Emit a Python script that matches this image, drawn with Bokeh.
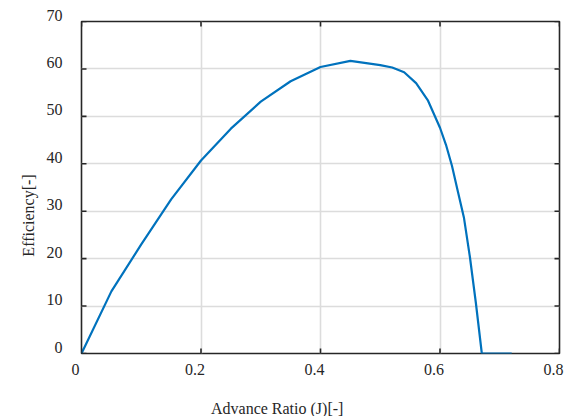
import math
from bokeh.plotting import figure
from bokeh.models import LinearAxis, Label, FixedTicker, Range1d
from bokeh.embed import file_html
from bokeh.resources import INLINE

# Data
advance_ratio = [0.0, 0.05, 0.10, 0.15, 0.20, 0.25, 0.30, 0.35, 0.40, 0.45, 0.50,
                 0.52, 0.54, 0.56, 0.58, 0.60, 0.61, 0.62, 0.63, 0.64, 0.65, 0.66,
                 0.67, 0.72]
efficiency = [0.0, 13.1, 23.0, 32.5, 40.7, 47.4, 53.1, 57.4, 60.4, 61.7, 60.8,
              60.3, 59.3, 57.0, 53.3, 47.6, 44.0, 39.6, 34.1, 28.7, 20.4, 10.7,
              0.0, 0.0]

x_ticks = [0, 0.2, 0.4, 0.6, 0.8]
x_tick_labels = ["0", "0.2", "0.4", "0.6", "0.8"]
y_ticks = [0, 10, 20, 30, 40, 50, 60, 70]
y_tick_labels = ["0", "10", "20", "30", "40", "50", "60", "70"]

x_label = "Advance Ratio (J)[-]"
y_label = "Efficiency[-]"

FONT = "Liberation Serif"
TXT = "#262626"
FS = "16px"

# small offsets of the tick labels relative to their ticks (as in the reference)
DX = -0.010
DY = 1.37

p = figure(width=564, height=416, output_backend="svg", toolbar_location=None,
           x_range=Range1d(x_ticks[0], x_ticks[-1]),
           y_range=Range1d(y_ticks[0], y_ticks[-1]),
           min_border_left=81, min_border_right=5, min_border_top=21,
           min_border_bottom=63, x_axis_location=None, y_axis_location=None)
p.outline_line_color = TXT
p.outline_line_width = 1.6
p.background_fill_color = "white"
p.border_fill_color = "white"

p.xgrid.ticker = FixedTicker(ticks=x_ticks)
p.ygrid.ticker = FixedTicker(ticks=y_ticks)
for g in (p.xgrid, p.ygrid):
    g.grid_line_color = "#dcdcdc"
    g.grid_line_width = 1.6

p.line(advance_ratio, efficiency, line_color="#0072BD", line_width=2.2)

# inward ticks on all four edges (markers are clipped to the frame)
nx, ny = len(x_ticks), len(y_ticks)
p.scatter(x_ticks + x_ticks, [y_ticks[0]] * nx + [y_ticks[-1]] * nx,
          marker="dash", size=10, angle=math.pi / 2, line_color=TXT, line_width=1.6)
p.scatter([x_ticks[0]] * ny + [x_ticks[-1]] * ny, y_ticks + y_ticks,
          marker="dash", size=10, line_color=TXT, line_width=1.6)


def label_axis(ticks, labels, shift, lo, hi):
    pos, labs = [], []
    for t, l in zip(ticks, labels):
        q = t + shift
        if lo <= q <= hi:
            pos.append(q)
            labs.append(l)
    ax = LinearAxis(ticker=FixedTicker(ticks=pos))
    ax.axis_line_color = None
    ax.major_tick_line_color = None
    ax.major_tick_in = 0
    ax.major_tick_out = 0
    ax.minor_tick_line_color = None
    ax.major_label_text_font = FONT
    ax.major_label_text_color = TXT
    ax.major_label_text_font_size = FS
    ax.major_label_overrides = {q: l for q, l in zip(pos, labs)}
    return ax


xb = label_axis(x_ticks, x_tick_labels, DX, x_ticks[0], x_ticks[-1])
xb.major_label_standoff = 10
p.add_layout(xb, "below")

yl = label_axis(y_ticks, y_tick_labels, DY, y_ticks[0], y_ticks[-1])
yl.major_label_standoff = 19
p.add_layout(yl, "left")

# the two end labels that fall just outside the frame
p.add_layout(Label(x=x_ticks[0] + DX, y=-3.4, text=x_tick_labels[0], text_font=FONT,
                   text_font_size=FS, text_color=TXT, text_align="center",
                   text_baseline="middle"), "below")
p.add_layout(Label(x=-0.0318, y=y_ticks[-1] + DY, text=y_tick_labels[-1],
                   text_font=FONT, text_font_size=FS, text_color=TXT,
                   text_align="right", text_baseline="middle"), "left")

# axis titles
p.add_layout(Label(x=0.3275, y=-11.6, text=x_label, text_font=FONT,
                   text_font_size=FS, text_color=TXT, text_align="center",
                   text_baseline="alphabetic"), "below")
p.add_layout(Label(x=-0.0879, y=29.1, text=y_label, text_font=FONT,
                   text_font_size=FS, text_color=TXT, text_align="center",
                   text_baseline="alphabetic", angle=math.pi / 2), "left")

open("out.html", "w").write(file_html(p, INLINE))
